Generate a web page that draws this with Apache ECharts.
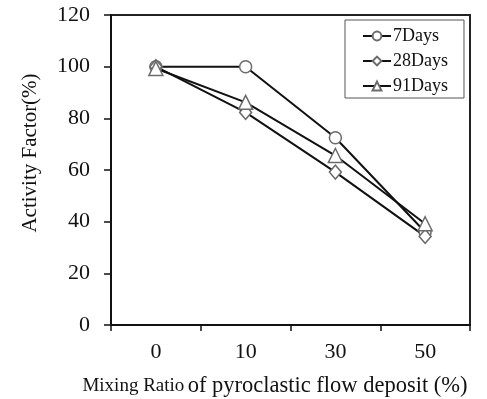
<!DOCTYPE html>
<html>
<head>
<meta charset="utf-8">
<script src="https://cdn.jsdelivr.net/npm/echarts@6/dist/echarts.min.js"></script>
<style>
  html, body { margin: 0; padding: 0; background: #fff; }
  #chart { width: 487px; height: 399px; }
</style>
</head>
<body>
<div id="chart"></div>
<script>
// Mixing ratios (x categories) and activity factor per curing age
const categories = ['0', '10', '30', '50'];
const days7 = [100, 100, 72.5, 36];
const days28 = [100, 82.3, 59.2, 34.3];
const days91 = [99.3, 86.2, 65.6, 39.2];
const yTicks = { min: 0, max: 120, interval: 20 };

const serif = '"Liberation Serif", "DejaVu Serif", serif';
const markerStyle = { color: '#fff', borderColor: '#6b6b6b', borderWidth: 1.5 };

function makeSeries(name, data, symbol, size) {
  return {
    name: name,
    type: 'line',
    data: data,
    symbol: symbol,
    symbolSize: size,
    lineStyle: { color: '#111', width: 2 },
    itemStyle: markerStyle,
    emphasis: { disabled: true },
    z: 3
  };
}

const chart = echarts.init(document.getElementById('chart'), null, { renderer: 'canvas' });
chart.setOption({
  animation: false,
  backgroundColor: '#fff',
  grid: {
    left: 111, right: 17, top: 15, bottom: 74,
    show: true, borderColor: '#222', borderWidth: 2
  },
  legend: {
    orient: 'vertical',
    left: 345, top: 20,
    padding: [7, 16, 3, 17],
    borderColor: '#555',
    borderWidth: 1,
    itemWidth: 28,
    itemHeight: 11,
    itemGap: 7,
    textStyle: { fontFamily: serif, fontSize: 18, color: '#111', padding: [0, 0, 0, -3] },
    data: ['7Days', '28Days', '91Days']
  },
  xAxis: {
    type: 'category',
    data: categories,
    boundaryGap: true,
    axisLine: { lineStyle: { color: '#111', width: 2 } },
    axisTick: { show: true, length: 6, alignWithLabel: false, lineStyle: { color: '#111', width: 1.5 } },
    axisLabel: { margin: 16, fontFamily: serif, fontSize: 22, color: '#111' },
    splitLine: { show: false }
  },
  yAxis: {
    type: 'value',
    min: yTicks.min, max: yTicks.max, interval: yTicks.interval,
    axisLine: { show: true, lineStyle: { color: '#111', width: 2 } },
    axisTick: { show: true, inside: false, length: 7, lineStyle: { color: '#111', width: 1.5 } },
    axisLabel: { margin: 21, fontFamily: serif, fontSize: 22, color: '#111' },
    splitLine: { show: false }
  },
  graphic: [
    {
      type: 'text',
      x: 30, y: 153,
      rotation: Math.PI / 2,
      style: {
        text: 'Activity Factor(%)',
        font: '21px ' + serif,
        fill: '#111',
        textAlign: 'center',
        textVerticalAlign: 'middle'
      }
    },
    {
      type: 'text',
      x: 275, y: 386,
      style: {
        text: '{s|Mixing Ratio} {b|of pyroclastic flow deposit (%)}',
        rich: {
          s: { font: '19px ' + serif, fill: '#111' },
          b: { font: '22.5px ' + serif, fill: '#111' }
        },
        textAlign: 'center',
        textVerticalAlign: 'middle'
      }
    }
  ],
  series: [
    makeSeries('7Days', days7, 'circle', 12),
    makeSeries('28Days', days28, 'diamond', [12, 14]),
    makeSeries('91Days', days91, 'triangle', [14, 14])
  ]
});
</script>
</body>
</html>
